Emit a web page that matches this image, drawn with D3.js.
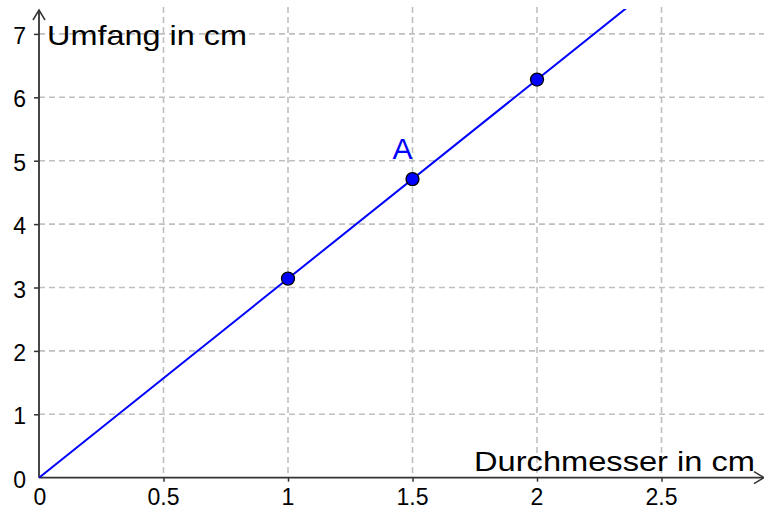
<!DOCTYPE html>
<html>
<head>
<meta charset="utf-8">
<script src="https://cdn.jsdelivr.net/npm/d3@7"></script>
<style>
  body { margin: 0; background: #fff; }
  svg { display: block; font-family: "Liberation Sans", Arial, sans-serif; }
</style>
</head>
<body>
<svg id="chart" width="764" height="509"></svg>
<script>
// values
var xTicks = [0.5, 1, 1.5, 2, 2.5];
var yTicks = [1, 2, 3, 4, 5, 6, 7];
var diameters = [1, 1.5, 2];
var circumference = [3.14, 4.71, 6.28];
var pointNames = ["", "A", ""];
// the straight line U = pi * d, given by two points
var lineD = [0, 3];
var lineU = [0, 9.42];

var xTitle = "Durchmesser in cm";
var yTitle = "Umfang in cm";

var width = 764, height = 509;
var originX = 39, originY = 477.7;
var topY = 9;
var axisColor = "#333333";
var gridColor = "#c0c0c0";
var blue = "#0000ff";

var svg = d3.select("#chart");

var x = d3.scaleLinear().domain([0, 2.9]).range([originX, originX + 2.9 * 249]);
var y = d3.scaleLinear().domain([0, 7.4]).range([originY, originY - 7.4 * 63.4]);

// grid
var grid = svg.append("g").attr("class", "grid");
grid.selectAll(".vgrid").data(xTicks).enter().append("line")
  .attr("x1", function (d) { return x(d); })
  .attr("x2", function (d) { return x(d); })
  .attr("y1", topY - 2)
  .attr("y2", originY)
  .style("stroke", gridColor)
  .style("stroke-width", 1.6)
  .style("stroke-dasharray", "6,4");
grid.selectAll(".hgrid").data(yTicks).enter().append("line")
  .attr("x1", originX)
  .attr("x2", width)
  .attr("y1", function (d) { return y(d); })
  .attr("y2", function (d) { return y(d); })
  .style("stroke", gridColor)
  .style("stroke-width", 1.6)
  .style("stroke-dasharray", "6,4");

// axes
var xAxis = d3.axisBottom(x).tickValues(xTicks).tickSize(4).tickFormat("");
var yAxis = d3.axisLeft(y).tickValues(yTicks).tickSize(5).tickFormat("");
var gx = svg.append("g").attr("transform", "translate(0," + originY + ")").call(xAxis);
var gy = svg.append("g").attr("transform", "translate(" + originX + ",0)").call(yAxis);
gx.select(".domain").remove();
gy.select(".domain").remove();
svg.selectAll(".tick line").style("stroke", axisColor).style("stroke-width", 1.5);

svg.append("line")
  .attr("x1", originX).attr("x2", width - 1)
  .attr("y1", originY).attr("y2", originY)
  .style("stroke", axisColor).style("stroke-width", 1.8);
svg.append("line")
  .attr("x1", originX).attr("x2", originX)
  .attr("y1", originY).attr("y2", topY + 1)
  .style("stroke", axisColor).style("stroke-width", 1.8);
// arrow heads
svg.append("path")
  .attr("d", "M" + (originX - 6) + "," + (topY + 11) + "L" + originX + "," + (topY + 1) + "L" + (originX + 6) + "," + (topY + 11))
  .style("fill", "none").style("stroke", axisColor).style("stroke-width", 1.5);
svg.append("path")
  .attr("d", "M" + (width - 10) + "," + (originY - 6) + "L" + width + "," + originY + "L" + (width - 10) + "," + (originY + 6))
  .style("fill", "none").style("stroke", axisColor).style("stroke-width", 1.5);

// tick labels
svg.append("g").selectAll("text").data([0].concat(xTicks)).enter().append("text")
  .attr("x", function (d) { return x(d) + (d === 0 ? 1 : 0); })
  .attr("y", 505)
  .attr("text-anchor", "middle")
  .style("font-size", "23px")
  .text(function (d) { return d; });
svg.append("g").selectAll("text").data([0].concat(yTicks)).enter().append("text")
  .attr("x", 26)
  .attr("y", function (d) { return y(d) + 10; })
  .attr("text-anchor", "end")
  .style("font-size", "23px")
  .text(function (d) { return d; });

// axis titles
svg.append("text")
  .attr("x", 474).attr("y", 471)
  .attr("textLength", 281).attr("lengthAdjust", "spacingAndGlyphs")
  .style("font-size", "28px")
  .text(xTitle);
svg.append("text")
  .attr("x", 47).attr("y", 45)
  .attr("textLength", 200).attr("lengthAdjust", "spacingAndGlyphs")
  .style("font-size", "28px")
  .text(yTitle);

// line
svg.append("clipPath").attr("id", "plotclip").append("rect")
  .attr("x", originX).attr("y", topY).attr("width", width - originX).attr("height", originY - topY);
svg.append("path")
  .datum(d3.zip(lineD, lineU))
  .attr("clip-path", "url(#plotclip)")
  .attr("d", d3.line().x(function (d) { return x(d[0]); }).y(function (d) { return y(d[1]); }))
  .style("fill", "none")
  .style("stroke", blue)
  .style("stroke-width", 2);

// points
var pts = d3.zip(diameters, circumference, pointNames);
svg.append("g").selectAll("circle").data(pts).enter().append("circle")
  .attr("cx", function (d) { return x(d[0]); })
  .attr("cy", function (d) { return y(d[1]); })
  .attr("r", 6.5)
  .style("fill", blue)
  .style("stroke", "#000")
  .style("stroke-width", 1.3);
svg.append("g").selectAll("text").data(pts.filter(function (d) { return d[2]; })).enter().append("text")
  .attr("x", function (d) { return x(d[0]) - 20; })
  .attr("y", function (d) { return y(d[1]) - 20; })
  .style("font-size", "30px")
  .style("fill", blue)
  .text(function (d) { return d[2]; });
</script>
</body>
</html>
